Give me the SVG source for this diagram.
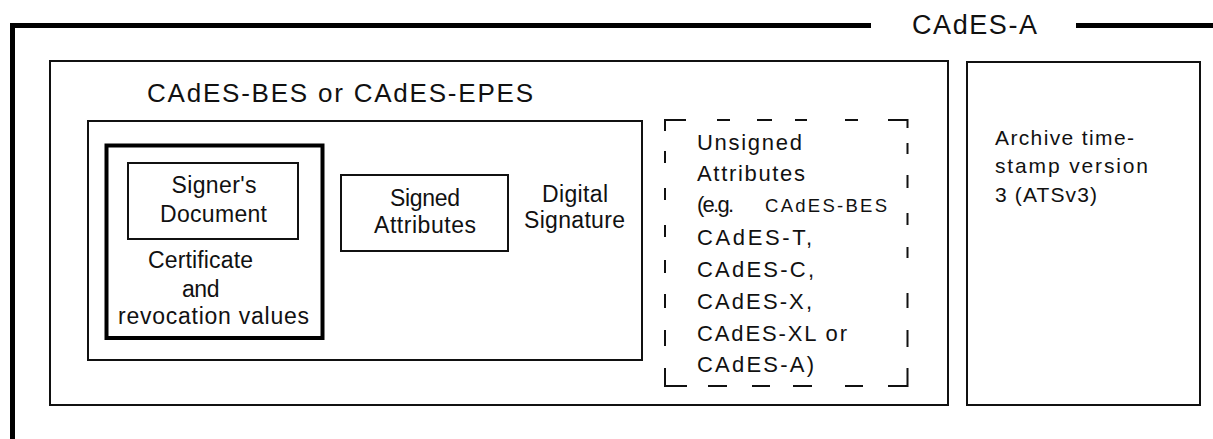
<svg xmlns="http://www.w3.org/2000/svg" width="1213" height="439" viewBox="0 0 1213 439">
  <style>
    text { font-family: "Liberation Sans", Arial, sans-serif; fill: #111; }
    .box { fill: none; stroke: #111; stroke-width: 2; }
    .thick { fill: none; stroke: #000; stroke-width: 4; }
    .frame { fill: none; stroke: #000; stroke-width: 5; }
    .dash { fill: none; stroke: #111; stroke-width: 2; }
    .t22 { font-size: 23px; }
    .t21 { font-size: 22px; }
    .t20 { font-size: 21px; }
  </style>
  <rect width="1213" height="439" fill="#fff"/>

  <!-- CAdES-A outer frame -->
  <g id="cades-a">
    <path class="frame" d="M12.5,439 V25.5 H871"/>
    <path class="frame" d="M1076,25.5 H1213"/>
    <text x="912" y="34" font-size="27" textLength="125" lengthAdjust="spacing">CAdES-A</text>
  </g>

  <!-- CAdES-BES / EPES container -->
  <g id="cades-bes-epes">
    <rect class="box" x="50" y="61" width="898" height="344"/>
    <text x="147" y="102" font-size="26" textLength="386" lengthAdjust="spacing">CAdES-BES or CAdES-EPES</text>
  </g>

  <!-- Digital signature box -->
  <g id="digital-signature">
    <rect class="box" x="88" y="121" width="554" height="239"/>
    <text class="t22" x="542" y="202" textLength="66" lengthAdjust="spacing">Digital</text>
    <text class="t22" x="524" y="228" textLength="101" lengthAdjust="spacing">Signature</text>
  </g>

  <!-- Certificate and revocation values -->
  <g id="cert-revocation">
    <rect class="thick" x="106.5" y="145.5" width="216" height="192.5"/>
    <text class="t22" x="148" y="268" textLength="105" lengthAdjust="spacing">Certificate</text>
    <text class="t22" x="182" y="297" textLength="37.5" lengthAdjust="spacing">and</text>
    <text class="t22" x="118" y="324" textLength="191" lengthAdjust="spacing">revocation values</text>
  </g>

  <!-- Signer's document -->
  <g id="signers-document">
    <rect class="box" x="128" y="163" width="170" height="76"/>
    <text class="t22" x="171.5" y="193" textLength="85" lengthAdjust="spacing">Signer's</text>
    <text class="t22" x="160" y="222" textLength="107" lengthAdjust="spacing">Document</text>
  </g>

  <!-- Signed attributes -->
  <g id="signed-attributes">
    <rect class="box" x="341" y="175" width="167" height="76"/>
    <text class="t22" x="390" y="206" textLength="70" lengthAdjust="spacing">Signed</text>
    <text class="t22" x="374" y="233" textLength="102" lengthAdjust="spacing">Attributes</text>
  </g>

  <!-- Unsigned attributes (dashed outline) -->
  <g id="unsigned-attributes">
    <path class="dash" d="M665,131 V120 H686 M717,120 H730 M757,120 H772 M795,120 H807 M845,120 H858 M888,120 H907.5 V128
                          M665,151 V163 M665,188 V200 M665,225 V237 M665,260 V273 M665,294 V308 M665,330 V346
                          M665,368 V386 H687 M708,386 H727 M752,386 H770 M793,386 H812 M845,386 H863 M888,386 H907.5 V368
                          M907.5,143 V154 M907.5,175 V188 M907.5,213 V225 M907.5,247 V258 M907.5,293 V308 M907.5,330 V347"/>
    <text class="t21" x="697" y="150" textLength="105" lengthAdjust="spacing">Unsigned</text>
    <text class="t21" x="697" y="181" textLength="108" lengthAdjust="spacing">Attributes</text>
    <text class="t21" x="697" y="212" textLength="37" lengthAdjust="spacing">(e.g.</text>
    <text x="765" y="212" font-size="18.5" textLength="122" lengthAdjust="spacing">CAdES-BES</text>
    <text class="t21" x="697" y="245" textLength="115" lengthAdjust="spacing">CAdES-T,</text>
    <text class="t21" x="697" y="277" textLength="117" lengthAdjust="spacing">CAdES-C,</text>
    <text class="t21" x="697" y="309" textLength="115" lengthAdjust="spacing">CAdES-X,</text>
    <text class="t21" x="697" y="341" textLength="150" lengthAdjust="spacing">CAdES-XL or</text>
    <text class="t21" x="697" y="372" textLength="117" lengthAdjust="spacing">CAdES-A)</text>
  </g>

  <!-- Archive time-stamp -->
  <g id="archive-timestamp">
    <rect class="box" x="967" y="62" width="233" height="343"/>
    <text class="t20" x="995" y="145" textLength="139" lengthAdjust="spacing">Archive time-</text>
    <text class="t20" x="995" y="173" textLength="153" lengthAdjust="spacing">stamp version</text>
    <text class="t20" x="995" y="202" textLength="102" lengthAdjust="spacing">3 (ATSv3)</text>
  </g>
</svg>
